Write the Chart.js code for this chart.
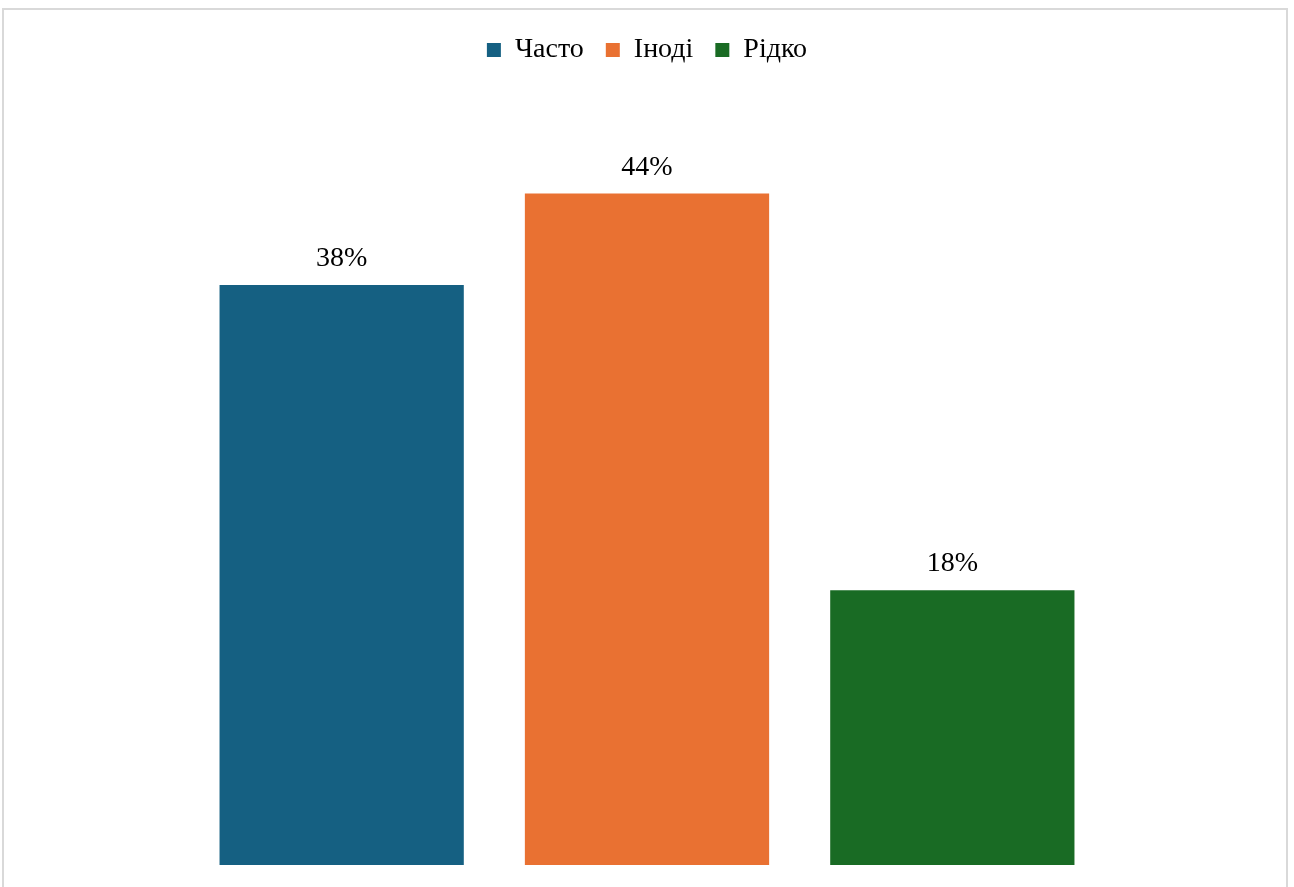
<!DOCTYPE html>
<html>
<head>
<meta charset="utf-8">
<script src="https://cdn.jsdelivr.net/npm/chart.js@4/dist/chart.umd.min.js"></script>
<style>
  html, body { margin: 0; padding: 0; background: #ffffff; }
  #wrap { position: relative; width: 1294px; height: 887px; overflow: hidden; }
  #frame { position: absolute; left: 2px; top: 8px; width: 1286px; height: 900px; border: 2px solid #d9d9d9; box-sizing: border-box; }
  #chart { position: absolute; left: 0; top: 0; }
</style>
</head>
<body>
<div id="wrap">
  <div id="frame"></div>
  <canvas id="chart" width="1294" height="887"></canvas>
</div>
<script>
  "use strict";

  const categories = ["Часто", "Іноді", "Рідко"];
  const shares = [38, 44, 18];
  const colors = ["#156082", "#E97132", "#196B24"];
  const font = "'Liberation Serif', 'Times New Roman', serif";

  // value labels above each bar
  const valueLabels = {
    id: "valueLabels",
    afterDatasetsDraw(chart) {
      const ctx = chart.ctx;
      const meta = chart.getDatasetMeta(0);
      ctx.save();
      ctx.font = "28px " + font;
      ctx.fillStyle = "#000000";
      ctx.textAlign = "center";
      ctx.textBaseline = "alphabetic";
      meta.data.forEach((bar, i) => {
        ctx.fillText(shares[i] + "%", bar.x, bar.y - 19);
      });
      ctx.restore();
    }
  };

  // give legend some extra room below it
  const legendGap = {
    id: "legendGap",
    beforeInit(chart) {
      const fit = chart.legend.fit;
      chart.legend.fit = function () {
        fit.bind(chart.legend)();
        this.height += 28;
      };
    }
  };

  new Chart(document.getElementById("chart"), {
    type: "bar",
    data: {
      labels: categories,
      datasets: [{
        data: shares,
        backgroundColor: colors,
        borderWidth: 0,
        categoryPercentage: 0.8,
        barPercentage: 1
      }]
    },
    options: {
      responsive: false,
      animation: false,
      layout: { padding: { left: 189, right: 189, top: 14, bottom: 22 } },
      plugins: {
        tooltip: { enabled: false },
        legend: {
          position: "top",
          labels: {
            boxWidth: 14,
            boxHeight: 14,
            padding: 22,
            color: "#000000",
            font: { family: font, size: 28 },
            generateLabels() {
              return categories.map((c, i) => ({
                text: c,
                fillStyle: colors[i],
                strokeStyle: colors[i],
                lineWidth: 0,
                index: i
              }));
            }
          }
        }
      },
      scales: {
        x: { display: false },
        y: { display: false, min: 0, max: 50 }
      }
    },
    plugins: [valueLabels, legendGap]
  });
</script>
</body>
</html>
